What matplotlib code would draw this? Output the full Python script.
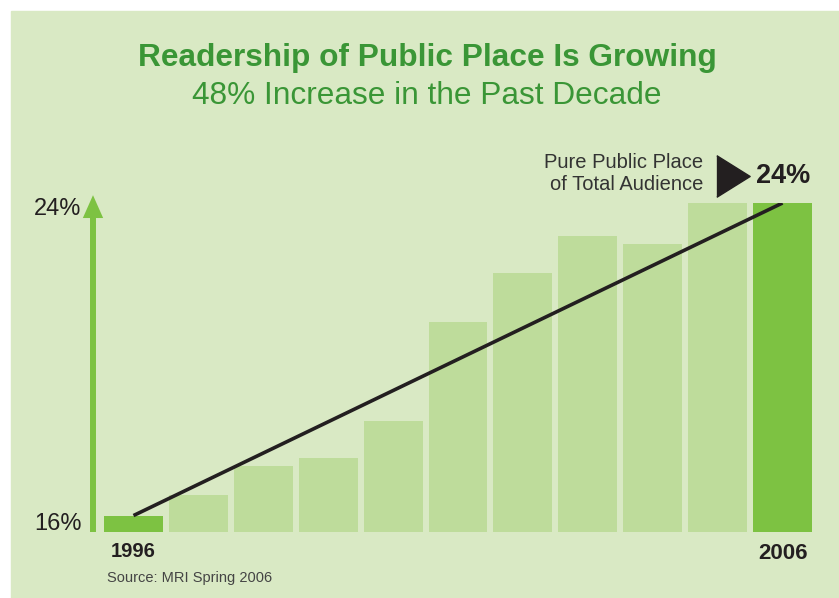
import numpy as np
import matplotlib
matplotlib.use("Agg")
import matplotlib.pyplot as plt
from matplotlib.patches import Rectangle

plt.rcParams['font.family'] = ['Liberation Sans', 'DejaVu Sans']

# data
years = [1996, 1997, 1998, 1999, 2000, 2001, 2002, 2003, 2004, 2005, 2006]
share = [16.4, 16.9, 17.6, 17.8, 18.7, 21.1, 22.3, 23.2, 23.0, 24.0, 24.0]
y_min, y_max = 16, 24
y_labels = ["16%", "24%"]

bg = "#d9e9c4"
light = "#bedc9b"
bright = "#7dc242"
title_green = "#3a9636"
dark = "#231f20"

W, H = 839, 598
fig = plt.figure(figsize=(W / 100, H / 100), dpi=100, facecolor="white")
fig.patches.append(Rectangle((11 / W, 0), 1 - 11 / W, 1 - 11 / H,
                             transform=fig.transFigure, color=bg, zorder=-5))

# axes: bars span px 104..812, baseline at y=532, 24% at y=203
ax = fig.add_axes([104 / W, (H - 532) / H, 708 / W, 329 / H])
ax.set_facecolor("none")
ax.set_xlim(-0.4545, len(years) - 1 + 0.4545)
ax.set_ylim(y_min, y_max)
ax.axis("off")

x = np.arange(len(years))
vals = np.array(share)
colors = [bright if i in (0, len(years) - 1) else light for i in range(len(years))]
ax.bar(x, vals - y_min, bottom=y_min, width=0.909, color=colors, zorder=2)

# trend line from first to last bar top
ax.plot([x[0], x[-1]], [vals[0], vals[-1]], color=dark, lw=2.6,
        solid_capstyle="butt", zorder=3)

# vertical green arrow on the left
ax_x = -0.624
ax.annotate("", xy=(ax_x, y_max + 0.19), xytext=(ax_x, y_min),
            arrowprops=dict(arrowstyle="-|>,head_length=0.9,head_width=0.4",
                            color=bright, lw=4.3, shrinkA=0, shrinkB=0,
                            capstyle="butt", joinstyle="miter"),
            annotation_clip=False)

ax.text(-0.80, y_max - 0.15, y_labels[1], ha="right", va="center", fontsize=17,
        color=dark, clip_on=False)
ax.text(-0.80, y_min + 0.19, y_labels[0], ha="right", va="center", fontsize=17,
        color=dark, clip_on=False)

# year labels
ax.text(x[0], y_min - 0.48, str(years[0]), ha="center", va="center",
        fontsize=14.5, fontweight="bold", color=dark, clip_on=False)
ax.text(x[-1], y_min - 0.53, str(years[-1]), ha="center", va="center",
        fontsize=16, fontweight="bold", color=dark, clip_on=False)

# callout
ax.text(8.78, y_max + 0.72, "Pure Public Place\nof Total Audience", ha="right",
        va="center", fontsize=14.5, color="#333333", linespacing=1.2,
        clip_on=False)
ax.plot([9.24], [y_max + 0.66], marker=[(-0.8, -1), (0.8, 0), (-0.8, 1)],
        markersize=30, color=dark, clip_on=False)
ax.text(9.59, y_max + 0.66, f"{y_max}%", ha="left", va="center", fontsize=19.5,
        fontweight="bold", color=dark, clip_on=False)

# titles and source
fig.text(427 / W, 1 - 66 / H, "Readership of Public Place Is Growing",
         ha="center", va="baseline", fontsize=22.8, fontweight="bold",
         color=title_green)
fig.text(427 / W, 1 - 104 / H, "48% Increase in the Past Decade",
         ha="center", va="baseline", fontsize=22.8, color=title_green)
fig.text(107 / W, 1 - 578 / H, "Source: MRI Spring 2006", ha="left",
         va="center", fontsize=10.5, color="#444444")

fig.savefig("out.png", dpi=100, facecolor=fig.get_facecolor())
